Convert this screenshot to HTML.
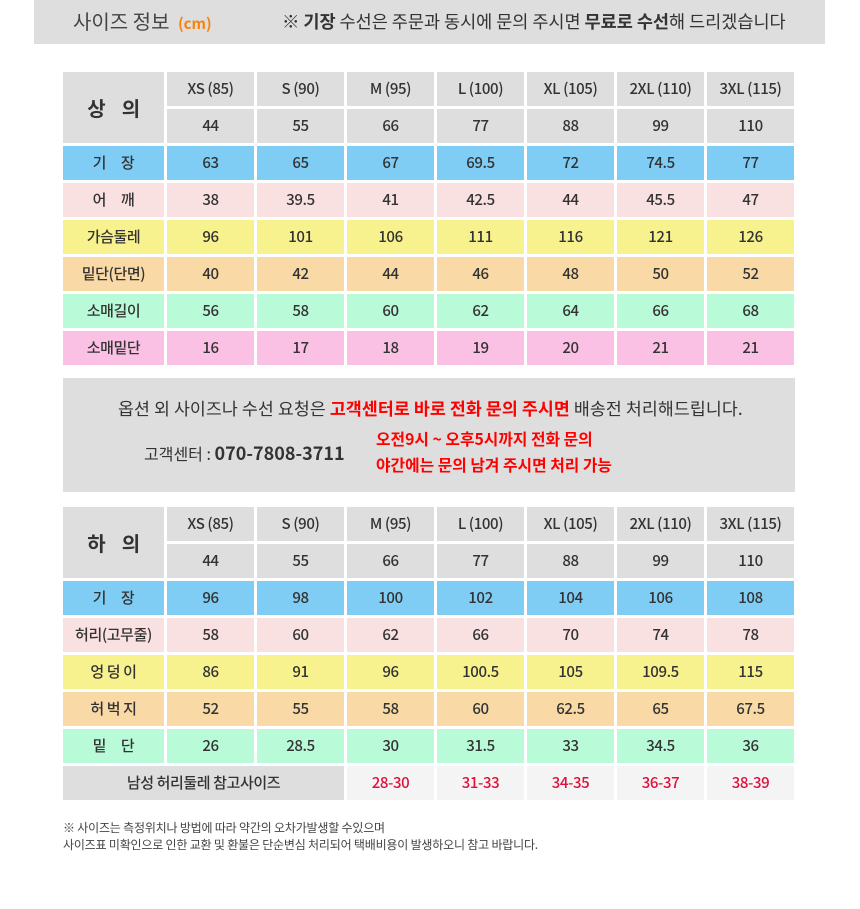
<!DOCTYPE html>
<html><head><meta charset="utf-8"><style>
body{margin:0;width:860px;height:909px;background:#fff;position:relative;font-family:"Noto Sans CJK KR","Liberation Sans",sans-serif;color:#333;overflow:hidden}
.a{position:absolute;white-space:nowrap}
.c{position:absolute;height:34px;line-height:34px;text-align:center;font-size:15px;font-weight:500;letter-spacing:-0.4px}
</style></head><body>
<div class="a" style="left:34px;top:0;width:791px;height:44px;background:#dedede"></div>
<div class="a" style="left:73px;top:7px;font-size:20px;color:#444;line-height:28px">사이즈 정보 <span style="color:#f7820e;font-size:15px;font-weight:700;margin-left:4px">(cm)</span></div>
<div class="a" style="left:282px;top:8px;font-size:17.5px;color:#333;line-height:28px;letter-spacing:0px">※ <b>기장</b> 수선은 주문과 동시에 문의 주시면 <b>무료로 수선</b>해 드리겠습니다</div>
<div class="a" style="left:63px;top:378px;width:732px;height:114px;background:#dedede"></div>
<div class="a" style="left:118px;top:395px;font-size:17.3px;line-height:26px;color:#333;letter-spacing:0.1px">옵션 외 사이즈나 수선 요청은 <span style="color:#f00;font-weight:700">고객센터로 바로 전화 문의 주시면</span> 배송전 처리해드립니다.</div>
<div class="a" style="left:144px;top:440px;font-size:16px;line-height:26px">고객센터 : <b style="font-size:18px">070-7808-3711</b></div>
<div class="a" style="left:376px;top:426px;font-size:15.8px;line-height:26px;color:#f00;font-weight:700">오전9시 ~ 오후5시까지 전화 문의<br>야간에는 문의 남겨 주시면 처리 가능</div>
<div class="a" style="left:63px;top:819px;font-size:12px;line-height:17px;color:#444;letter-spacing:-0.2px">※ 사이즈는 측정위치나 방법에 따라 약간의 오차가발생할 수있으며<br>사이즈표 미확인으로 인한 교환 및 환불은 단순변심 처리되어 택배비용이 발생하오니 참고 바랍니다.</div>
<script>
function tbl(top,title,rows,last){
 var h='',cols=['XS (85)','S (90)','M (95)','L (100)','XL (105)','2XL (110)','3XL (115)'],sz=['44','55','66','77','88','99','110'];
 function cell(x,y,w,bg,t,st){h+='<div class="c" style="left:'+x+'px;top:'+y+'px;width:'+w+'px;background:'+bg+';'+(st||'')+'">'+t+'</div>';}
 cell(63,top,101,'#dedede',title,'height:71px;line-height:71px;font-size:20px;font-weight:700;white-space:pre');
 for(var i=0;i<7;i++){cell(167+i*90,top,87,'#dedede',cols[i]);cell(167+i*90,top+37,87,'#dedede',sz[i]);}
 rows.forEach(function(r,j){var y=top+74+j*37;cell(63,y,101,r[0],r[1],'white-space:pre');for(var i=0;i<7;i++)cell(167+i*90,y,87,r[0],r[2][i]);});
 if(last){var y=top+74+rows.length*37;cell(63,y,281,'#dedede','남성 허리둘레 참고사이즈');var v=['28-30','31-33','34-35','36-37','38-39'];for(var i=0;i<5;i++)cell(347+i*90,y,87,'#f4f4f4',v[i],'color:#e0103a');}
 document.body.insertAdjacentHTML('beforeend',h);
}
tbl(72,'상    의',[
['#7fcdf5','기     장',['63','65','67','69.5','72','74.5','77']],
['#fae1e1','어     깨',['38','39.5','41','42.5','44','45.5','47']],
['#f8f28e','가슴둘레',['96','101','106','111','116','121','126']],
['#f9d9a5','밑단(단면)',['40','42','44','46','48','50','52']],
['#b9fbd9','소매길이',['56','58','60','62','64','66','68']],
['#fbc1e4','소매밑단',['16','17','18','19','20','21','21']]],false);
tbl(507,'하    의',[
['#7fcdf5','기     장',['96','98','100','102','104','106','108']],
['#fae1e1','허리(고무줄)',['58','60','62','66','70','74','78']],
['#f8f28e','엉 덩 이',['86','91','96','100.5','105','109.5','115']],
['#f9d9a5','허 벅 지',['52','55','58','60','62.5','65','67.5']],
['#b9fbd9','밑     단',['26','28.5','30','31.5','33','34.5','36']]],true);
</script>
</body></html>
